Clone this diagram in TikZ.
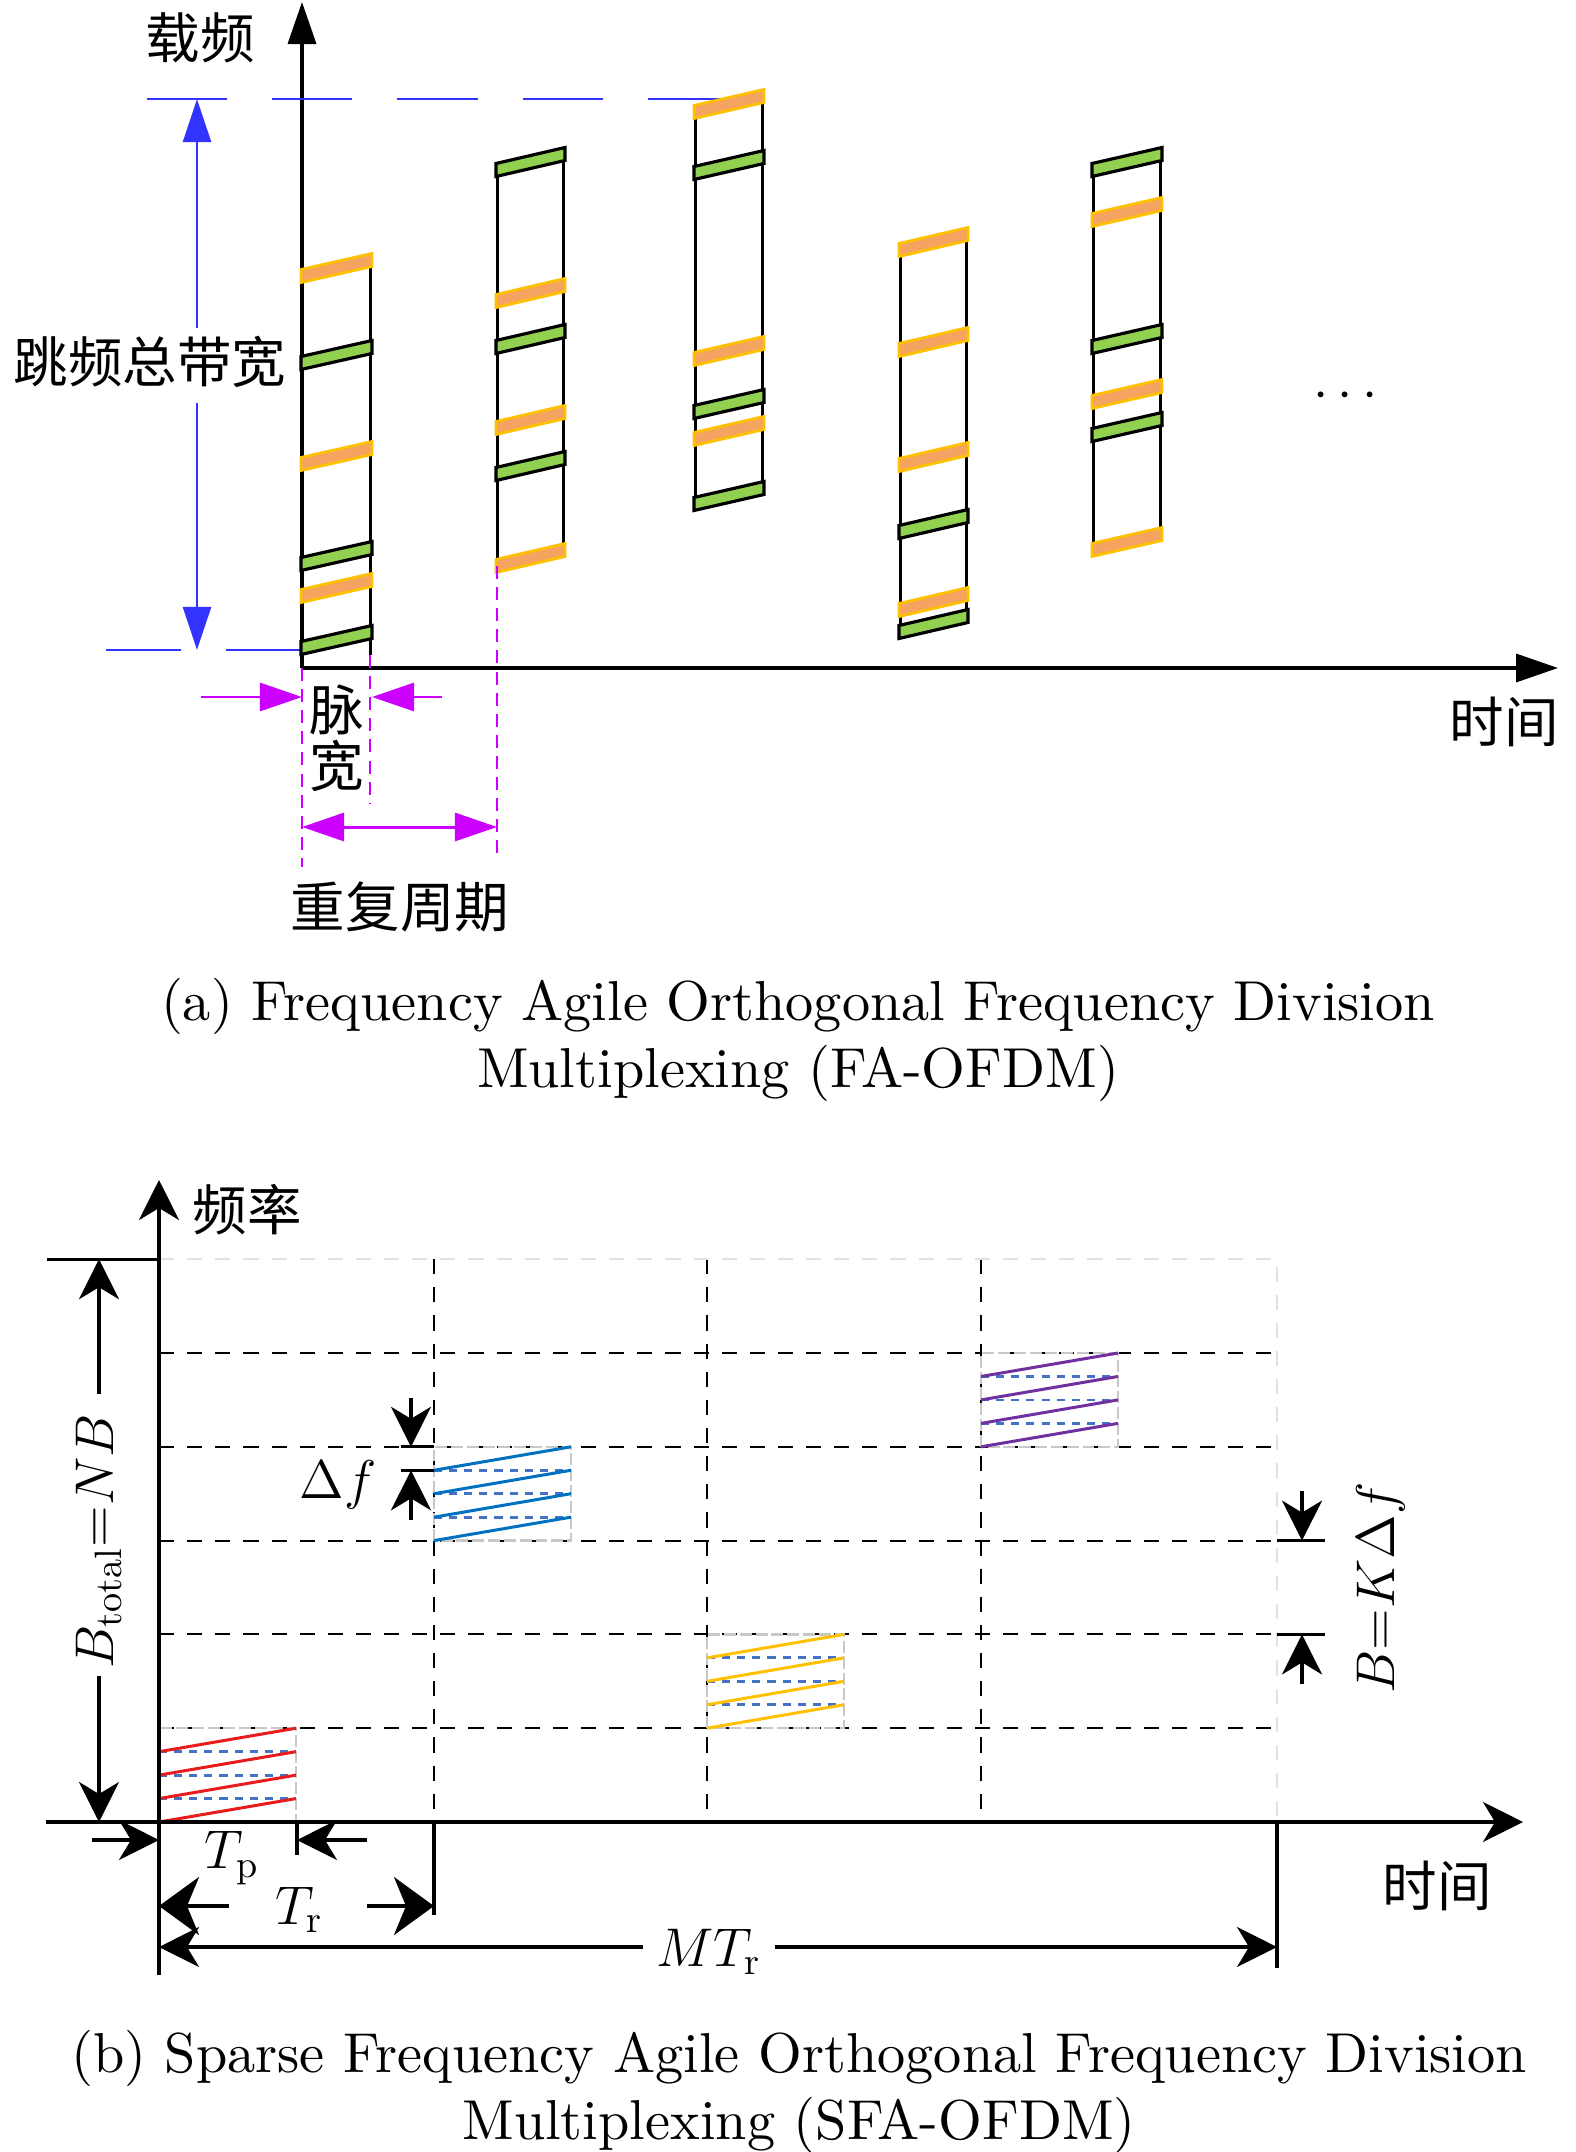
\RequirePackage{fix-cm}
\documentclass[tikz,border=0pt]{standalone}
\usepackage{amsmath}
\usepackage{fontspec}
\usetikzlibrary{arrows.meta}
\newfontfamily\cjk{Noto Sans CJK SC}
\newfontfamily\capfont[Extension=.otf]{lmroman10-regular}

\definecolor{hopblue}{RGB}{51,51,255}
\definecolor{pwmag}{RGB}{204,0,255}
\definecolor{bargreen}{RGB}{146,208,80}
\definecolor{barorange}{RGB}{244,164,96}
\definecolor{bargold}{RGB}{255,192,0}
\definecolor{chirpred}{RGB}{232,28,28}
\definecolor{chirpblue}{RGB}{0,112,192}
\definecolor{chirpgold}{RGB}{255,192,0}
\definecolor{chirppurple}{RGB}{112,48,160}
\definecolor{subblue}{RGB}{68,114,196}
\definecolor{slotgray}{RGB}{200,200,200}
\definecolor{ghostgray}{RGB}{225,225,232}

\tikzstyle{zhtext} = [font=\cjk\fontsize{15.5pt}{18pt}\selectfont, inner sep=0pt]
\tikzstyle{mathtext} = [font=\fontsize{15.5pt}{18pt}\selectfont, inner sep=0pt]
\tikzstyle{captiontext} = [font=\capfont\fontsize{16pt}{19pt}\selectfont, align=center, inner sep=0pt]
\tikzstyle{axisa} = [line width=1pt, >={Triangle[length=4.2mm,width=2.8mm]}]
\tikzstyle{column} = [line width=0.85pt]
\tikzstyle{greenbar} = [fill=bargreen, draw=black, line width=0.9pt]
\tikzstyle{orangebar} = [fill=barorange, draw=bargold, line width=0.8pt]
\tikzstyle{bandedge} = [hopblue, line width=0.6pt, dash pattern=on 22.8pt off 12.8pt]
\tikzstyle{bandarrow} = [hopblue, line width=0.7pt, >={Triangle[length=4.3mm,width=2.8mm]}]
\tikzstyle{pulseguide} = [pwmag, line width=0.7pt, dash pattern=on 3.7pt off 2.3pt]
\tikzstyle{pulsearrow} = [pwmag, line width=0.85pt, >={Triangle[length=4.2mm,width=2.8mm]}]
\tikzstyle{axisb} = [line width=1pt, >={Stealth[length=4mm,width=4mm,inset=1.2mm]}]
\tikzstyle{gridline} = [line width=0.6pt, dash pattern=on 4.3pt off 3.7pt]
\tikzstyle{ghostline} = [ghostgray, line width=0.6pt, dash pattern=on 4.3pt off 3.7pt]
\tikzstyle{slotedge} = [slotgray, line width=0.7pt, dash pattern=on 3.4pt off 1.1pt]
\tikzstyle{subline} = [subblue, line width=0.8pt, dash pattern=on 2.3pt off 2pt]
\tikzstyle{chirp} = [line width=0.85pt]
\tikzstyle{dim} = [line width=0.9pt]
\tikzstyle{dimarrow} = [dim, >={Stealth[length=4mm,width=4mm,inset=1.2mm]}]
\tikzstyle{trarrow} = [dim, >={Stealth[length=4mm,width=5.8mm,inset=1.2mm]}]

\begin{document}
\begin{tikzpicture}[x=0.01cm, y=-0.01cm]
    \useasboundingbox (0,0) rectangle (1575,2152);

    % (a) frequency agile pulses
    \coordinate (origin_a) at (302,668);
    \coordinate (freq_tip_a) at (302,2);
    \coordinate (time_tip_a) at (1558,668);
    \draw[axisa, ->] (origin_a) -- (freq_tip_a);
    \draw[axisa, ->] (origin_a) -- (time_tip_a);
    \node[zhtext] (carrier) at (200,38) {载频};
    \node[zhtext] (time_a) at (1504,722) {时间};
    \node[mathtext] (more) at (1350,396) {$\cdots$};

    \draw[bandedge] (147,99) -- (727,99);
    \draw[bandedge, dash pattern=on 21.3pt off 12.8pt] (106,650) -- (origin_a |- 0,650);
    \node[zhtext] (hop_band) at (150,362) {跳频总带宽};
    \coordinate (band_top) at (197,99);
    \coordinate (band_bot) at (197,650);
    \draw[bandarrow, ->] ([yshift=0.8mm]hop_band.north -| band_top) -- (band_top);
    \draw[bandarrow, ->] ([yshift=-1.5mm]hop_band.south -| band_bot) -- (band_bot);

    \draw[column] (370,260) -- (370,655);
    \draw[column] (497,170) -- (497,566);  \draw[column] (563,154) -- (563,550);
    \draw[column] (695,112) -- (695,504);  \draw[column] (762,96) -- (762,488);
    \draw[column] (900,250) -- (900,632);  \draw[column] (966,234) -- (966,616);
    \draw[column] (1093,170) -- (1093,550);  \draw[column] (1160,154) -- (1160,534);

    \foreach \xl/\xr/\yl/\kind in {
        302/370/276/orangebar, 302/370/363/greenbar, 302/370/464/orangebar,
        302/370/564/greenbar, 302/370/596/orangebar, 302/370/648/greenbar,
        497/563/170/greenbar, 497/563/301/orangebar, 497/563/347/greenbar,
        497/563/428/orangebar, 497/563/474/greenbar, 497/563/566/orangebar,
        695/762/112/orangebar, 695/762/173/greenbar, 695/762/359/orangebar,
        695/762/412/greenbar, 695/762/439/orangebar, 695/762/504/greenbar,
        900/966/250/orangebar, 900/966/350/orangebar, 900/966/465/orangebar,
        900/966/532/greenbar, 900/966/610/orangebar, 900/966/632/greenbar,
        1093/1160/170/greenbar, 1093/1160/220/orangebar, 1093/1160/347/greenbar,
        1093/1160/402/orangebar, 1093/1160/435/greenbar, 1093/1160/550/orangebar}
        \draw[\kind] (\xl-1,\yl+6.5) -- (\xl-1,\yl-6.5) -- (\xr+2,\yl-22.5) -- (\xr+2,\yl-9.5) -- cycle;

    % pulse width and repetition period
    \draw[pulseguide] (origin_a) -- (302,867);
    \draw[pulseguide] (370,655) -- (370,803);
    \draw[pulseguide] (497,566) -- (497,860);
    \coordinate (pw_left) at (302,697);
    \coordinate (pw_right) at (372,697);
    \coordinate (per_left) at (302,827);
    \coordinate (per_right) at (497,827);
    \draw[pulsearrow, ->] ([xshift=-1.01cm]pw_left) -- (pw_left);
    \draw[pulsearrow, ->] ([xshift=0.7cm]pw_right) -- (pw_right);
    \draw[pulsearrow, <->] (per_left) -- (per_right);
    \node[zhtext, align=center, font=\cjk\fontsize{15.5pt}{16pt}\selectfont] (pulse_width) at (337,738) {脉\\宽};
    \node[zhtext] (period) at (400,907) {重复周期};

    \node[captiontext] (caption_a) at (798,1040) {(a) Frequency Agile Orthogonal Frequency Division\\Multiplexing (FA-OFDM)};

    % (b) sparse frequency agile slots
    \coordinate (origin_b) at (159,1822);
    \coordinate (freq_tip_b) at (159,1180);
    \coordinate (time_tip_b) at (1523,1822);
    \foreach \k in {1,...,5}
        \draw[gridline] (159,1822-93.8*\k) -- (1277,1822-93.8*\k);
    \foreach \x in {434,707,981}
        \draw[gridline] (\x,1259.2) -- (\x,1822);
    \draw[ghostline] (159,1259.2) -- (1277,1259.2) -- (1277,1822);

    \foreach \bx/\by/\col in {159/1822/chirpred, 434/1540.6/chirpblue, 707/1728.2/chirpgold, 981/1446.8/chirppurple} {
        \draw[slotedge] (\bx,\by) rectangle (\bx+137,\by-93.8);
        \foreach \j in {1,2,3}
            \draw[subline] (\bx,\by-23.45*\j) -- (\bx+137,\by-23.45*\j);
        \foreach \j in {0,...,3}
            \draw[chirp, \col] (\bx,\by-23.45*\j) -- (\bx+137,\by-23.45*\j-23.45);
    }

    \draw[axisb, ->] (159,1975) -- (freq_tip_b);
    \draw[axisb, ->] (46,1822) -- (time_tip_b);
    \node[zhtext] (freq_b) at (247,1210) {频率};
    \node[zhtext] (time_b) at (1437,1886) {时间};

    % total band
    \draw[dim] (47,1259.2) -- (159,1259.2);
    \coordinate (bt_top) at (99,1259.2);
    \coordinate (bt_bot) at (99,1822);
    \node[mathtext, rotate=90] (b_total) at (99,1541) {$B_{\mathrm{total}}{=}NB$};
    \draw[dimarrow, ->] ([yshift=1.9mm]b_total.east) -- (bt_top);
    \draw[dimarrow, ->] ([yshift=-0.7mm]b_total.west) -- (bt_bot);

    % subcarrier spacing
    \coordinate (df_hi) at (411,1446.8);
    \coordinate (df_lo) at (411,1470.3);
    \draw[dim] (401,1446.8) -- (434,1446.8);
    \draw[dim] (401,1470.3) -- (434,1470.3);
    \draw[dimarrow, ->] ([yshift=4.9mm]df_hi) -- (df_hi);
    \draw[dimarrow, ->] ([yshift=-5mm]df_lo) -- (df_lo);
    \node[mathtext] (delta_f) at (338,1485) {$\Delta f$};

    % sub-band width
    \coordinate (bk_hi) at (1302,1540.6);
    \coordinate (bk_lo) at (1302,1634.4);
    \draw[dim] (1277,1540.6) -- (1325,1540.6);
    \draw[dim] (1277,1634.4) -- (1325,1634.4);
    \draw[dimarrow, ->] ([yshift=5mm]bk_hi) -- (bk_hi);
    \draw[dimarrow, ->] ([yshift=-5mm]bk_lo) -- (bk_lo);
    \node[mathtext, rotate=90] (b_sub) at (1381,1588) {$B{=}K\Delta f$};

    % time spans
    \draw[dim] (297,1822) -- (297,1855);
    \draw[dim] (434,1822) -- (434,1915);
    \draw[dim] (1277,1822) -- (1277,1968);
    \coordinate (tp_left) at (159,1840);
    \coordinate (tp_right) at (297,1840);
    \draw[dimarrow, ->] ([xshift=-6.7mm]tp_left) -- (tp_left);
    \draw[dimarrow, ->] ([xshift=7mm]tp_right) -- (tp_right);
    \node[mathtext] (t_p) at (232,1858) {$T_{\mathrm{p}}$};
    \coordinate (tr_left) at (159,1906);
    \coordinate (tr_right) at (434,1906);
    \draw[trarrow, ->] ([xshift=7mm]tr_left) -- (tr_left);
    \draw[trarrow, ->] ([xshift=-6.7mm]tr_right) -- (tr_right);
    \node[mathtext] (t_r) at (299,1910) {$T_{\mathrm{r}}$};
    \coordinate (mt_left) at (159,1947);
    \coordinate (mt_right) at (1277,1947);
    \node[mathtext, inner sep=1.3mm] (m_tr) at (709,1952) {$MT_{\mathrm{r}}$};
    \draw[dimarrow, ->] (m_tr.west |- mt_left) -- (mt_left);
    \draw[dimarrow, ->] (m_tr.east |- mt_right) -- (mt_right);

    \node[captiontext] (caption_b) at (799,2092) {(b) Sparse Frequency Agile Orthogonal Frequency Division\\Multiplexing (SFA-OFDM)};
\end{tikzpicture}
\end{document}
